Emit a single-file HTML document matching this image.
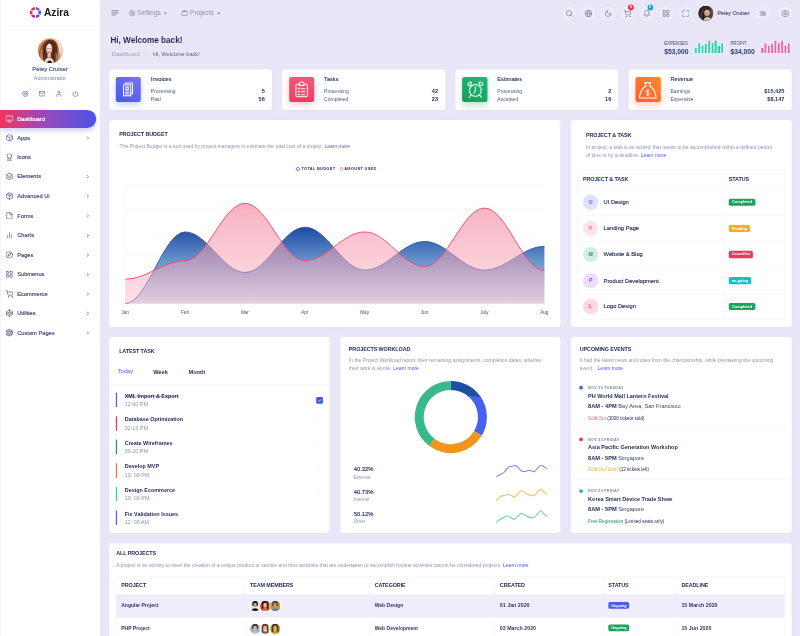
<!DOCTYPE html>
<html lang="en">
<head>
<meta charset="utf-8">
<title>Azira Dashboard</title>
<style>
*{box-sizing:border-box;margin:0;padding:0}
html,body{width:800px;height:636px;overflow:hidden;background:#e9e7f7}
body{font-family:"Liberation Sans",sans-serif;color:#1d2a55}
#root{position:absolute;left:0;top:0;width:1920px;height:1527px;transform:scale(.4166667);transform-origin:0 0;overflow:hidden;opacity:.999}
.abs{position:absolute}
/* ---------- sidebar ---------- */
#side{position:absolute;left:0;top:0;width:240px;height:1527px;background:rgba(255,255,255,.998);box-shadow:inset 2px 0 0 #f3f3f5}
#logo{position:absolute;left:0;top:0;width:240px;height:64px;border-bottom:1px solid #eeedf6}
#logo .txt{position:absolute;left:105.500px;top:18.300px;font-size:24.400px;line-height:24.400px;font-weight:bold;color:#16192c}
.uname{position:absolute;left:0;width:240px;text-align:center}
.sico{position:absolute;top:209px;width:32px;height:32px;border-radius:50%;border:1px solid #f5f4fb}
.sico svg{position:absolute;left:7px;top:7px;width:16px;height:16px;stroke:#5d6a96;fill:none;stroke-width:2.3;stroke-linecap:round;stroke-linejoin:round}
.mi{position:absolute;left:0;width:240px;height:44px}
.mi .t{position:absolute;left:41.300px;top:15px;font-size:13.700px;line-height:14px;color:#3d466f;font-weight:normal;-webkit-text-stroke:.35px #3d466f}
.mi svg.i{position:absolute;left:13px;top:12px;width:19px;height:19px;stroke:#4a5480;fill:none;stroke-width:1.9;stroke-linecap:round;stroke-linejoin:round}
.mi svg.c{position:absolute;left:205px;top:16px;width:12px;height:12px;stroke:#4f5a84;fill:none;stroke-width:3.3;stroke-linecap:round;stroke-linejoin:round}
.mi.act{left:0;width:230.500px;height:43.500px;border-radius:0 60px 60px 0;background:linear-gradient(90deg,#f1345f 0%,#9a49b8 45%,#4a55e6 100%);box-shadow:0 7px 12px rgba(90,80,200,.28)}
.mi.act .t{color:#fff;-webkit-text-stroke:.5px #fff}
.mi.act svg.i{stroke:#fff}
/* ---------- header ---------- */
#hdr{position:absolute;left:240px;top:0;width:1680px;height:64px;border-bottom:1px solid #dcd9ee;background:#e9e7f7}
.hc{position:absolute;top:13px;width:38px;height:38px;border-radius:50%;border:1px solid #e0ddf0;background:#edebf8}
.hc svg{position:absolute;left:8.500px;top:8.500px;width:19px;height:19px;stroke:#737c9f;fill:none;stroke-width:2.100;stroke-linecap:round;stroke-linejoin:round}
.hl{position:absolute;top:22.500px;font-size:15.800px;line-height:16px;color:#8a90ad}
/* ---------- cards ---------- */
.card{position:absolute;background:#fff;border-radius:8px;box-shadow:0 0 8px rgba(150,140,200,.05)}
.ct{position:absolute;margin-top:1.2px;font-size:13px;line-height:13px;font-weight:bold;color:#1d2a55;text-transform:uppercase;letter-spacing:-.25px;white-space:nowrap}
.cd{position:absolute;margin-top:1.2px;font-size:12px;color:#8f96ae;line-height:21px;white-space:nowrap}
.cd a{color:#4a5bf0;text-decoration:none}
.nw{white-space:nowrap}
</style>
</head>
<body>
<div id="root">
<svg width="0" height="0" style="position:absolute">
<defs>
<symbol id="i-airplay" viewBox="0 0 24 24"><path d="M5 17H4a2 2 0 0 1-2-2V5a2 2 0 0 1 2-2h16a2 2 0 0 1 2 2v10a2 2 0 0 1-2 2h-1"/><polygon points="12 15 17 21 7 21 12 15"/></symbol>
<symbol id="i-box" viewBox="0 0 24 24"><path d="M21 16V8a2 2 0 0 0-1-1.73l-7-4a2 2 0 0 0-2 0l-7 4A2 2 0 0 0 3 8v8a2 2 0 0 0 1 1.73l7 4a2 2 0 0 0 2 0l7-4A2 2 0 0 0 21 16z"/><polyline points="3.27 6.96 12 12.01 20.73 6.96"/><line x1="12" y1="22.08" x2="12" y2="12"/></symbol>
<symbol id="i-award" viewBox="0 0 24 24"><circle cx="12" cy="8" r="7"/><polyline points="8.21 13.89 7 23 12 20 17 23 15.79 13.88"/></symbol>
<symbol id="i-layers" viewBox="0 0 24 24"><polygon points="12 2 2 7 12 12 22 7 12 2"/><polyline points="2 17 12 22 22 17"/><polyline points="2 12 12 17 22 12"/></symbol>
<symbol id="i-package" viewBox="0 0 24 24"><line x1="16.5" y1="9.4" x2="7.5" y2="4.21"/><path d="M21 16V8a2 2 0 0 0-1-1.73l-7-4a2 2 0 0 0-2 0l-7 4A2 2 0 0 0 3 8v8a2 2 0 0 0 1 1.73l7 4a2 2 0 0 0 2 0l7-4A2 2 0 0 0 21 16z"/><polyline points="3.27 6.96 12 12.01 20.73 6.96"/><line x1="12" y1="22.08" x2="12" y2="12"/></symbol>
<symbol id="i-file" viewBox="0 0 24 24"><path d="M13 2H6a2 2 0 0 0-2 2v16a2 2 0 0 0 2 2h12a2 2 0 0 0 2-2V9z"/><polyline points="13 2 13 9 20 9"/></symbol>
<symbol id="i-bar" viewBox="0 0 24 24"><line x1="18" y1="20" x2="18" y2="10"/><line x1="12" y1="20" x2="12" y2="4"/><line x1="6" y1="20" x2="6" y2="14"/></symbol>
<symbol id="i-compass" viewBox="0 0 24 24"><circle cx="12" cy="12" r="10"/><polygon points="16.24 7.76 14.12 14.12 7.76 16.24 9.88 9.88 16.24 7.76"/></symbol>
<symbol id="i-grid" viewBox="0 0 24 24"><rect x="3" y="3" width="7" height="7" rx="1.5"/><rect x="14" y="3" width="7" height="7" rx="1.5"/><rect x="14" y="14" width="7" height="7" rx="1.5"/><rect x="3" y="14" width="7" height="7" rx="1.5"/></symbol>
<symbol id="i-cart" viewBox="0 0 24 24"><circle cx="9" cy="21" r="1"/><circle cx="20" cy="21" r="1"/><path d="M1 1h4l2.68 13.39a2 2 0 0 0 2 1.61h9.72a2 2 0 0 0 2-1.61L23 6H6"/></symbol>
<symbol id="i-codepen" viewBox="0 0 24 24"><polygon points="12 2 22 8.5 22 15.5 12 22 2 15.5 2 8.5 12 2"/><line x1="12" y1="22" x2="12" y2="15.5"/><polyline points="22 8.5 12 15.5 2 8.5"/><polyline points="2 15.5 12 8.5 22 15.5"/><line x1="12" y1="2" x2="12" y2="8.5"/></symbol>
<symbol id="i-aperture" viewBox="0 0 24 24"><circle cx="12" cy="12" r="10"/><line x1="14.31" y1="8" x2="20.05" y2="17.94"/><line x1="9.69" y1="8" x2="21.17" y2="8"/><line x1="7.38" y1="12" x2="13.12" y2="2.06"/><line x1="9.69" y1="16" x2="3.95" y2="6.06"/><line x1="14.31" y1="16" x2="2.83" y2="16"/><line x1="16.62" y1="12" x2="10.88" y2="21.94"/></symbol>
<symbol id="i-chev" viewBox="0 0 24 24"><polyline points="9 18 15 12 9 6"/></symbol>
<symbol id="i-gear" viewBox="0 0 24 24"><circle cx="12" cy="12" r="3"/><path d="M19.4 15a1.65 1.65 0 0 0 .33 1.82l.06.06a2 2 0 0 1 0 2.83 2 2 0 0 1-2.83 0l-.06-.06a1.65 1.65 0 0 0-1.82-.33 1.65 1.65 0 0 0-1 1.51V21a2 2 0 0 1-2 2 2 2 0 0 1-2-2v-.09A1.65 1.65 0 0 0 9 19.4a1.65 1.65 0 0 0-1.82.33l-.06.06a2 2 0 0 1-2.83 0 2 2 0 0 1 0-2.83l.06-.06a1.65 1.65 0 0 0 .33-1.82 1.65 1.65 0 0 0-1.51-1H3a2 2 0 0 1-2-2 2 2 0 0 1 2-2h.09A1.65 1.65 0 0 0 4.6 9a1.65 1.65 0 0 0-.33-1.82l-.06-.06a2 2 0 0 1 0-2.83 2 2 0 0 1 2.83 0l.06.06a1.65 1.65 0 0 0 1.82.33H9a1.65 1.65 0 0 0 1-1.51V3a2 2 0 0 1 2-2 2 2 0 0 1 2 2v.09a1.65 1.65 0 0 0 1 1.51 1.65 1.65 0 0 0 1.82-.33l.06-.06a2 2 0 0 1 2.83 0 2 2 0 0 1 0 2.83l-.06.06a1.65 1.65 0 0 0-.33 1.82V9a1.65 1.65 0 0 0 1.51 1H21a2 2 0 0 1 2 2 2 2 0 0 1-2 2h-.09a1.65 1.65 0 0 0-1.51 1z"/></symbol>
<symbol id="i-gear2" viewBox="0 0 24 24"><path d="M9.89 4.08L10.21 1.55L13.79 1.55L14.11 4.08L16.11 4.91L18.12 3.34L20.66 5.88L19.09 7.89L19.92 9.89L22.45 10.21L22.45 13.79L19.92 14.11L19.09 16.11L20.66 18.12L18.12 20.66L16.11 19.09L14.11 19.92L13.79 22.45L10.21 22.45L9.89 19.92L7.89 19.09L5.88 20.66L3.34 18.12L4.91 16.11L4.08 14.11L1.55 13.79L1.55 10.21L4.08 9.89L4.91 7.89L3.34 5.88L5.88 3.34L7.89 4.91Z" stroke-linejoin="round"/><circle cx="12" cy="12" r="3.200"/></symbol>
<symbol id="i-mail" viewBox="0 0 24 24"><path d="M4 4h16c1.1 0 2 .9 2 2v12c0 1.1-.9 2-2 2H4c-1.1 0-2-.9-2-2V6c0-1.1.9-2 2-2z"/><polyline points="22,6 12,13 2,6"/></symbol>
<symbol id="i-user" viewBox="0 0 24 24"><path d="M20 21v-2a4 4 0 0 0-4-4H8a4 4 0 0 0-4 4v2"/><circle cx="12" cy="7" r="4"/></symbol>
<symbol id="i-power" viewBox="0 0 24 24"><path d="M18.36 6.64a9 9 0 1 1-12.73 0"/><line x1="12" y1="2" x2="12" y2="12"/></symbol>
<symbol id="i-search" viewBox="0 0 24 24"><circle cx="11" cy="11" r="8"/><line x1="21" y1="21" x2="16.65" y2="16.65"/></symbol>
<symbol id="i-globe" viewBox="0 0 24 24"><circle cx="12" cy="12" r="10"/><line x1="2" y1="12" x2="22" y2="12"/><path d="M12 2a15.3 15.3 0 0 1 4 10 15.3 15.3 0 0 1-4 10 15.3 15.3 0 0 1-4-10 15.3 15.3 0 0 1 4-10z"/></symbol>
<symbol id="i-moon" viewBox="0 0 24 24"><path d="M21 12.79A9 9 0 1 1 11.21 3 7 7 0 0 0 21 12.79z"/></symbol>
<symbol id="i-bell" viewBox="0 0 24 24"><path d="M18 8A6 6 0 0 0 6 8c0 7-3 9-3 9h18s-3-2-3-9"/><path d="M13.73 21a2 2 0 0 1-3.46 0"/></symbol>
<symbol id="i-max" viewBox="0 0 24 24"><path d="M8 3H5a2 2 0 0 0-2 2v3m18 0V5a2 2 0 0 0-2-2h-3m0 18h3a2 2 0 0 0 2-2v-3M3 16v3a2 2 0 0 0 2 2h3"/></symbol>
<symbol id="i-brief" viewBox="0 0 24 24"><rect x="2" y="7" width="20" height="14" rx="2" ry="2"/><path d="M16 7V5a2 2 0 0 0-2-2h-4a2 2 0 0 0-2 2v2"/></symbol>
<symbol id="av" viewBox="0 0 60 60">
 <defs>
  <radialGradient id="avbg" cx=".78" cy=".35" r=".8"><stop offset="0" stop-color="#f8ece0"/><stop offset=".45" stop-color="#ecbd94"/><stop offset="1" stop-color="#c98a5e"/></radialGradient>
  <radialGradient id="avface" cx=".5" cy=".3" r=".75"><stop offset="0" stop-color="#fdf1ec"/><stop offset=".55" stop-color="#f0cdbd"/><stop offset="1" stop-color="#cf9a85"/></radialGradient>
 </defs>
 <rect width="60" height="60" fill="url(#avbg)"/>
 <path d="M4 60C0 38 4 10 24 4c16-4 26 8 26 26 0 10-3 20-1 30z" fill="#9a5a36"/>
 <path d="M10 60C6 40 8 14 24 6c14-4 22 6 22 22 0 12-2 22-1 32z" fill="#5a2c1d"/>
 <path d="M6 56c-2-14 0-26 6-36-2 14-1 24 2 36zM49 56c2-10 2-18 0-26 4 6 5 16 3 26z" fill="#c08254"/>
 <path d="M42 34c5 6 7 14 5 26h-6c2-9 2-18 1-26z" fill="#b07048"/>
 <ellipse cx="27" cy="26" rx="7.600" ry="12.500" fill="url(#avface)"/>
 <path d="M19.500 22c0-8 3-13 8-13.500-2 4-5 8-8 13.500zM28.500 8.500c5 .5 7.500 5 7.500 12-1.500-5-4-9-7.500-12z" fill="#4a2216"/>
 <path d="M35 16c3 8 3 18 1 28 4-6 5-20-1-28zM19.500 18c-3 8-3 20 0 30-4-8-5-22 0-30z" fill="#4a2216"/>
 <path d="M23 37h8v10h-8z" fill="#e8c2ae"/>
 <path d="M15 60c1-8 5-12 12-13 6 0 11 5 12 13z" fill="#efd6c8"/>
 <path d="M22 60c1-4 3-5.500 6-5.500s5 1.500 6 5.500z" fill="#17131a"/>
 <path d="M25 34.500h4" stroke="#c25f5a" stroke-width="1.800" stroke-linecap="round"/>
 <path d="M22.500 25.500h3M29 25.500h3" stroke="#6a463a" stroke-width="1.200" stroke-linecap="round"/>
</symbol>
</defs>
</svg>
<div id="side">
 <div id="logo">
  <svg class="abs" style="left:70.100px;top:15.300px" width="30" height="30" viewBox="0 0 30 30"><g fill="none" stroke-width="6.200" stroke-linecap="butt"><path d="M16.09 4.66A10.4 10.4 0 0 1 23.41 8.89" stroke="#8d42da"/><path d="M24.50 10.77A10.4 10.4 0 0 1 24.50 19.23" stroke="#4a54e8"/><path d="M23.41 21.11A10.4 10.4 0 0 1 16.09 25.34" stroke="#5c49e2"/><path d="M13.91 25.34A10.4 10.4 0 0 1 6.59 21.11" stroke="#c2307f"/><path d="M5.50 19.23A10.4 10.4 0 0 1 5.50 10.77" stroke="#ea2f60"/><path d="M6.59 8.89A10.4 10.4 0 0 1 13.91 4.66" stroke="#d63060"/></g></svg>
  <div class="txt">Azira</div>
 </div>
 <svg class="abs" style="left:91px;top:91px;border-radius:50%" width="60" height="60"><use href="#av"/></svg>
 <div class="uname" style="top:158.300px;font-size:14px;line-height:14px;color:#55608f;-webkit-text-stroke:.5px #55608f">Petey Cruiser</div>
 <div class="uname" style="top:181px;font-size:13.200px;line-height:13px;color:#7d88a8">Administrator</div>
 <div class="sico" style="left:44.500px"><svg><use href="#i-gear2"/></svg></div>
 <div class="sico" style="left:84.500px"><svg><use href="#i-mail"/></svg></div>
 <div class="sico" style="left:124.500px"><svg><use href="#i-user"/></svg></div>
 <div class="sico" style="left:165px"><svg><use href="#i-power"/></svg></div>

 <div class="mi act" style="top:263.800px"><svg class="i"><use href="#i-airplay"/></svg><div class="t">Dashboard</div></div>
 <div class="mi" style="top:308.6px"><svg class="i"><use href="#i-box"/></svg><div class="t">Apps</div><svg class="c"><use href="#i-chev"/></svg></div>
 <div class="mi" style="top:355.5px"><svg class="i"><use href="#i-award"/></svg><div class="t">Icons</div></div>
 <div class="mi" style="top:402.3px"><svg class="i"><use href="#i-layers"/></svg><div class="t">Elements</div><svg class="c"><use href="#i-chev"/></svg></div>
 <div class="mi" style="top:449.2px"><svg class="i"><use href="#i-package"/></svg><div class="t">Advanced Ui</div><svg class="c"><use href="#i-chev"/></svg></div>
 <div class="mi" style="top:496.1px"><svg class="i"><use href="#i-file"/></svg><div class="t">Forms</div><svg class="c"><use href="#i-chev"/></svg></div>
 <div class="mi" style="top:543.0px"><svg class="i"><use href="#i-bar"/></svg><div class="t">Charts</div><svg class="c"><use href="#i-chev"/></svg></div>
 <div class="mi" style="top:589.8px"><svg class="i"><use href="#i-compass"/></svg><div class="t">Pages</div><svg class="c"><use href="#i-chev"/></svg></div>
 <div class="mi" style="top:636.7px"><svg class="i"><use href="#i-grid"/></svg><div class="t">Submenus</div><svg class="c"><use href="#i-chev"/></svg></div>
 <div class="mi" style="top:683.6px"><svg class="i"><use href="#i-cart"/></svg><div class="t">Ecommerce</div><svg class="c"><use href="#i-chev"/></svg></div>
 <div class="mi" style="top:730.4px"><svg class="i"><use href="#i-codepen"/></svg><div class="t">Utilities</div><svg class="c"><use href="#i-chev"/></svg></div>
 <div class="mi" style="top:777.3px"><svg class="i"><use href="#i-aperture"/></svg><div class="t">Custom Pages</div><svg class="c"><use href="#i-chev"/></svg></div>
</div>

<div id="hdr">
<svg class="abs" style="left:27px;top:24px" width="18" height="14" viewBox="0 0 18 14"><g stroke="#7b84a6" stroke-width="2.4" stroke-linecap="round"><path d="M1.200 2h15.600M1.200 7h15.600M1.200 12h9.600"/></g></svg>
<svg class="abs" style="left:69px;top:24px;fill:none;stroke:#828aa9;stroke-width:2.600;stroke-linecap:round;stroke-linejoin:round" width="16" height="16"><use href="#i-gear2"/></svg>
<div class="hl" style="left:89px">Settings</div>
<div class="abs" style="left:153px;top:30px;border:4.500px solid transparent;border-top:5px solid #8a90ad"></div>
<svg class="abs" style="left:195px;top:23px;fill:none;stroke:#828aa9;stroke-width:2.600;stroke-linecap:round;stroke-linejoin:round" width="16" height="16"><use href="#i-brief"/></svg>
<div class="hl" style="left:216px">Projects</div>
<div class="abs" style="left:280.500px;top:30px;border:4.500px solid transparent;border-top:5px solid #8a90ad"></div>
<div class="hc" style="left:1107.0px"><svg><use href="#i-search"/></svg></div>
<div class="hc" style="left:1153.5px"><svg><use href="#i-globe"/></svg></div>
<div class="hc" style="left:1200.1px"><svg><use href="#i-moon"/></svg></div>
<div class="hc" style="left:1246.7px"><svg><use href="#i-cart"/></svg></div>
<div class="hc" style="left:1293.2px"><svg><use href="#i-bell"/></svg></div>
<div class="hc" style="left:1339.8px"><svg><use href="#i-grid"/></svg></div>
<div class="hc" style="left:1386.3px"><svg><use href="#i-max"/></svg></div>
<div class="abs" style="left:1267.2px;top:10.500px;width:14px;height:14px;border-radius:50%;background:#f5334f;color:#fff;font-size:8px;line-height:14px;text-align:center;font-weight:bold">6</div>
<div class="abs" style="left:1313.7px;top:10.500px;width:14px;height:14px;border-radius:50%;background:#17a7c4;color:#fff;font-size:8px;line-height:14px;text-align:center;font-weight:bold">5</div>
<svg class="abs" style="left:1436.400px;top:14px;border-radius:50%" width="36" height="36" viewBox="0 0 36 36"><rect width="36" height="36" fill="#4a3a34"/><path d="M0 0h36v14c-4-8-12-12-20-9C8 8 4 16 3 36H0z" fill="#2a1f1c"/><path d="M24 0h12v36h-5c2-12 1-26-7-36z" fill="#6a5048"/><ellipse cx="21" cy="16" rx="6.500" ry="8.500" fill="#d2a998"/><path d="M13 14c1-7 7-10 12-8 3 1 5 4 5 8-3-4-7-6-11-5-2 1-4 3-6 5z" fill="#231a18"/><path d="M12 12c-3 8-3 16-1 24h7c-4-8-5-16-6-24z" fill="#1f1715"/><path d="M12 36c1-6 5-9 10-9s8 3 9 9z" fill="#cfc4ba"/><path d="M18 22.500h5" stroke="#a05a52" stroke-width="1.200"/></svg>
<div class="abs nw" style="left:1482px;top:25.500px;font-size:12.700px;line-height:13px;color:#4b557f;-webkit-text-stroke:.4px #4b557f">Petey Cruiser</div>
<div class="hc" style="left:1571.700px"><svg viewBox="0 0 24 24" style="stroke:#8a93ad"><path d="M3.500 7.200h17M8 12h12.500M5.500 16.800h15" stroke-width="3"/></svg></div>
<div class="hc" style="left:1625px"><svg><use href="#i-gear2"/></svg></div>
</div>

<div class="abs nw" style="left:265px;top:87.400px;font-size:19.600px;line-height:20px;font-weight:bold;color:#1d2a55">Hi, Welcome back!</div>
<div class="abs nw" style="left:269px;top:123.300px;font-size:13.500px;line-height:14px;color:#9a9fb8">Dashboard</div>
<svg class="abs" style="left:346px;top:126px;fill:none;stroke:#c3c5d6;stroke-width:2.500;stroke-linecap:round;stroke-linejoin:round" width="9" height="9"><use href="#i-chev"/></svg>
<div class="abs nw" style="left:367px;top:123.300px;font-size:13.500px;line-height:14px;color:#5b6485">Hi, Welcome back!</div>
<div class="abs nw" style="left:1594px;top:98.500px;font-size:10.600px;line-height:11px;color:#3d466f">EXPENSES</div>
<div class="abs nw" style="left:1594px;top:115px;font-size:16.200px;line-height:16px;font-weight:bold;color:#323d6e">$53,000</div>
<div class="abs nw" style="left:1753px;top:98.500px;font-size:10.600px;line-height:11px;color:#3d466f">PROFIT</div>
<div class="abs nw" style="left:1753px;top:115px;font-size:16.200px;line-height:16px;font-weight:bold;color:#323d6e">$34,000</div>
<div class="abs" style="left:1668.0px;top:115.4px;width:4.300px;height:11.5px;background:#20d9a2;border-radius:1px 1px 0 0"></div><div class="abs" style="left:1675.9px;top:103.9px;width:4.300px;height:23.0px;background:#20d9a2;border-radius:1px 1px 0 0"></div><div class="abs" style="left:1683.8px;top:110.1px;width:4.300px;height:16.8px;background:#20d9a2;border-radius:1px 1px 0 0"></div><div class="abs" style="left:1691.7px;top:104.7px;width:4.300px;height:22.2px;background:#20d9a2;border-radius:1px 1px 0 0"></div><div class="abs" style="left:1699.6px;top:98.4px;width:4.300px;height:28.5px;background:#20d9a2;border-radius:1px 1px 0 0"></div><div class="abs" style="left:1707.5px;top:103.1px;width:4.300px;height:23.8px;background:#20d9a2;border-radius:1px 1px 0 0"></div><div class="abs" style="left:1715.4px;top:98.4px;width:4.300px;height:28.5px;background:#20d9a2;border-radius:1px 1px 0 0"></div><div class="abs" style="left:1723.3px;top:110.1px;width:4.300px;height:16.8px;background:#20d9a2;border-radius:1px 1px 0 0"></div><div class="abs" style="left:1731.2px;top:104.3px;width:4.300px;height:22.6px;background:#20d9a2;border-radius:1px 1px 0 0"></div>
<div class="abs" style="left:1827.3px;top:115.4px;width:4.300px;height:11.5px;background:#f0609d;border-radius:1px 1px 0 0"></div><div class="abs" style="left:1835.2px;top:103.9px;width:4.300px;height:23.0px;background:#f0609d;border-radius:1px 1px 0 0"></div><div class="abs" style="left:1843.1px;top:110.1px;width:4.300px;height:16.8px;background:#f0609d;border-radius:1px 1px 0 0"></div><div class="abs" style="left:1851.0px;top:104.7px;width:4.300px;height:22.2px;background:#f0609d;border-radius:1px 1px 0 0"></div><div class="abs" style="left:1858.9px;top:98.4px;width:4.300px;height:28.5px;background:#f0609d;border-radius:1px 1px 0 0"></div><div class="abs" style="left:1866.8px;top:103.1px;width:4.300px;height:23.8px;background:#f0609d;border-radius:1px 1px 0 0"></div><div class="abs" style="left:1874.7px;top:98.4px;width:4.300px;height:28.5px;background:#f0609d;border-radius:1px 1px 0 0"></div><div class="abs" style="left:1882.6px;top:110.1px;width:4.300px;height:16.8px;background:#f0609d;border-radius:1px 1px 0 0"></div><div class="abs" style="left:1890.5px;top:104.3px;width:4.300px;height:22.6px;background:#f0609d;border-radius:1px 1px 0 0"></div>

<div class="card" style="left:261.6px;top:166.600px;width:391.300px;height:97.600px">
 <div class="abs" style="left:16.200px;top:18.900px;width:60.500px;height:60px;border-radius:5px;background:linear-gradient(215deg,#7d72f6,#4558ee);box-shadow:0 8px 16px rgba(90,100,240,.25)"><svg class="abs" style="left:4.200px;top:3.500px" width="52" height="52" viewBox="0 0 36 36"><g fill="none" stroke="#fff" stroke-width="1.700" stroke-linejoin="round" stroke-linecap="round"><path d="M13 9V7h12v18h-2"/><path d="M10 10h12v19l-2-1.500-2 1.500-2-1.500-2 1.500-2-1.500-2 1.500z"/><rect x="14" y="13.500" width="4" height="5"/><path d="M13 22h6M13 25h6"/></g></svg></div>
 <div class="abs nw" style="left:100.400px;top:16.200px;font-size:13.500px;line-height:14px;color:#1d2a55;-webkit-text-stroke:.25px #1d2a55">Invoices</div>
 <div class="abs nw" style="left:100.400px;top:46.300px;font-size:12px;line-height:12px;color:#4d5780">Processing</div>
 <div class="abs nw" style="right:17.400px;top:46px;font-size:13.500px;line-height:14px;font-weight:bold;color:#1d2a55">5</div>
 <div class="abs nw" style="left:100.400px;top:65.700px;font-size:12px;line-height:12px;color:#4d5780">Paid</div>
 <div class="abs nw" style="right:17.400px;top:65.400px;font-size:13.500px;line-height:14px;font-weight:bold;color:#1d2a55">56</div>
</div>
<div class="card" style="left:677.400px;top:166.600px;width:391.300px;height:97.600px">
 <div class="abs" style="left:16.200px;top:18.900px;width:60.500px;height:60px;border-radius:5px;background:linear-gradient(180deg,#f65877,#f13b62);box-shadow:0 5px 18px rgba(245,60,100,.30)"><svg class="abs" style="left:4.200px;top:3.500px" width="52" height="52" viewBox="0 0 36 36"><g fill="none" stroke="#fff" stroke-width="1.700" stroke-linejoin="round" stroke-linecap="round"><rect x="8.500" y="9" width="19" height="21" rx="2"/><path d="M14 9c0-2 1-3.500 4-3.500s4 1.500 4 3.500v2h-8z" fill="#f4456a"/><path d="M12 16l1 1 2-2M17.500 16.500h6M12 21l1 1 2-2M17.500 21.500h6M12 26l1 1 2-2M17.500 26.500h6"/></g></svg></div>
 <div class="abs nw" style="left:100.400px;top:16.200px;font-size:13.500px;line-height:14px;color:#1d2a55;-webkit-text-stroke:.25px #1d2a55">Tasks</div>
 <div class="abs nw" style="left:100.400px;top:46.300px;font-size:12px;line-height:12px;color:#4d5780">Processing</div>
 <div class="abs nw" style="right:17.400px;top:46px;font-size:13.500px;line-height:14px;font-weight:bold;color:#1d2a55">42</div>
 <div class="abs nw" style="left:100.400px;top:65.700px;font-size:12px;line-height:12px;color:#4d5780">Completed</div>
 <div class="abs nw" style="right:17.400px;top:65.400px;font-size:13.500px;line-height:14px;font-weight:bold;color:#1d2a55">23</div>
</div>
<div class="card" style="left:1093.200px;top:166.600px;width:391.300px;height:97.600px">
 <div class="abs" style="left:16.200px;top:18.900px;width:60.500px;height:60px;border-radius:5px;background:linear-gradient(200deg,#23b877,#139f5c);box-shadow:0 8px 16px rgba(30,170,100,.28)"><svg class="abs" style="left:4.200px;top:3.500px" width="52" height="52" viewBox="0 0 36 36"><g fill="none" stroke="#fff" stroke-width="1.800" stroke-linejoin="round" stroke-linecap="round"><circle cx="18.600" cy="19.400" r="9.800"/><path d="M18.600 13.500v6.500l-2.400 3.800M11.200 27.200l-2.900 3.500M25.800 27.200l2.900 3.500"/><ellipse cx="9.200" cy="8.600" rx="3.400" ry="2.300" transform="rotate(-38 9.200 8.600)"/><ellipse cx="27.900" cy="8.300" rx="3.400" ry="2.300" transform="rotate(38 27.900 8.300)"/></g></svg></div>
 <div class="abs nw" style="left:100.400px;top:16.200px;font-size:13.500px;line-height:14px;color:#1d2a55;-webkit-text-stroke:.25px #1d2a55">Estimates</div>
 <div class="abs nw" style="left:100.400px;top:46.300px;font-size:12px;line-height:12px;color:#4d5780">Processing</div>
 <div class="abs nw" style="right:17.400px;top:46px;font-size:13.500px;line-height:14px;font-weight:bold;color:#1d2a55">2</div>
 <div class="abs nw" style="left:100.400px;top:65.700px;font-size:12px;line-height:12px;color:#4d5780">Accepted</div>
 <div class="abs nw" style="right:17.400px;top:65.400px;font-size:13.500px;line-height:14px;font-weight:bold;color:#1d2a55">16</div>
</div>
<div class="card" style="left:1508.900px;top:166.600px;width:391.300px;height:97.600px">
 <div class="abs" style="left:16.200px;top:18.900px;width:60.500px;height:60px;border-radius:5px;background:linear-gradient(215deg,#fb8c1c,#ff5a3e);box-shadow:0 8px 16px rgba(250,120,40,.30)"><svg class="abs" style="left:4.200px;top:3.500px" width="52" height="52" viewBox="0 0 36 36"><g fill="none" stroke="#fff" stroke-width="1.800" stroke-linejoin="round" stroke-linecap="round"><path d="M13 6.400h9.600l-1.900 5.300c5 3 9.500 10 10.600 17.300v3h-27v-3c1.100-7.300 5.600-14.300 10.600-17.300z"/><path d="M20.300 20.300c-.4-.9-1.300-1.300-2.500-1.300-1.500 0-2.500.8-2.500 1.900s.9 1.700 2.500 2c1.700.3 2.600.9 2.600 2s-1 1.900-2.600 1.900c-1.200 0-2.200-.4-2.700-1.300M17.800 17.500v11" stroke-width="1.500"/></g></svg></div>
 <div class="abs nw" style="left:100.400px;top:16.200px;font-size:13.500px;line-height:14px;color:#1d2a55;-webkit-text-stroke:.25px #1d2a55">Revenue</div>
 <div class="abs nw" style="left:100.400px;top:46.300px;font-size:12px;line-height:12px;color:#4d5780">Earnings</div>
 <div class="abs nw" style="right:17.400px;top:46px;font-size:13.500px;line-height:14px;font-weight:bold;color:#1d2a55">$15,425</div>
 <div class="abs nw" style="left:100.400px;top:65.700px;font-size:12px;line-height:12px;color:#4d5780">Expensive</div>
 <div class="abs nw" style="right:17.400px;top:65.400px;font-size:13.500px;line-height:14px;font-weight:bold;color:#1d2a55">$8,147</div>
</div>

<div class="card" style="left:261.6px;top:288.3px;width:1083px;height:496.7px">
 <div class="ct" style="left:24.400px;top:26.1px">Project Budget</div>
 <div class="cd" style="left:25.400px;top:50.6px">The Project Budget is a tool used by project managers to estimate the total cost of a project. <a>Learn more</a></div>
 <div class="abs" style="left:448.500px;top:112.4px;width:9.500px;height:9.500px;border-radius:50%;border:2.900px solid #4a63e8"></div>
 <div class="abs nw" style="left:462px;top:112.2px;font-size:9.500px;line-height:10px;font-weight:bold;letter-spacing:.65px;color:#2b3566">TOTAL BUDGET</div>
 <div class="abs" style="left:553.500px;top:112.7px;width:9px;height:9px;border-radius:50%;border:2.400px solid #f27a97"></div>
 <div class="abs nw" style="left:564.500px;top:112.2px;font-size:9.500px;line-height:10px;font-weight:bold;letter-spacing:.65px;color:#2b3566">AMOUNT USED</div>
 <svg class="abs" style="left:0;top:0" width="1083" height="496.7" viewBox="261.6 288.3 1083 496.7">
  <defs>
   <linearGradient id="gb" x1="0" y1="0" x2="0" y2="1"><stop offset="0" stop-color="#1b4aa0" stop-opacity="1"/><stop offset=".5" stop-color="#6a97cf" stop-opacity=".95"/><stop offset="1" stop-color="#c9d8f0" stop-opacity=".85"/></linearGradient>
   <linearGradient id="gp" x1="0" y1="0" x2="0" y2="1"><stop offset="0" stop-color="#f3819b" stop-opacity=".62"/><stop offset="1" stop-color="#f9b9c6" stop-opacity=".45"/></linearGradient>
  </defs>
  <path d="M300.3 442.6H1306.2" stroke="#f1f0f6" stroke-width="1.200"/>
  <path d="M300.3 499.8H1306.2" stroke="#f1f0f6" stroke-width="1.200"/>
  <path d="M300.3 557.0H1306.2" stroke="#f1f0f6" stroke-width="1.200"/>
  <path d="M300.3 614.2H1306.2" stroke="#f1f0f6" stroke-width="1.200"/>
  <path d="M300.3 671.4H1306.2" stroke="#f1f0f6" stroke-width="1.200"/>
  <path d="M300.3 728.6H1306.2" stroke="#f1f0f6" stroke-width="1.200"/>
  <path d="M300.3 442.6V728.6" stroke="#f1f0f6" stroke-width="1.200"/>
  <path d="M300.3 728.6C353.5 728.6 390.8 557.0 444.0 557.0C497.2 557.0 534.5 654.2 587.7 654.2C640.9 654.2 678.2 545.6 731.4 545.6C784.6 545.6 821.9 648.5 875.1 648.5C928.3 648.5 965.6 579.9 1018.8 579.9C1072.0 579.9 1109.3 648.5 1162.5 648.5C1215.7 648.5 1253.0 591.3 1306.2 591.3V728.6H300.3Z" fill="url(#gb)"/>
  <path d="M300.3 728.6C353.5 728.6 390.8 557.0 444.0 557.0C497.2 557.0 534.5 654.2 587.7 654.2C640.9 654.2 678.2 545.6 731.4 545.6C784.6 545.6 821.9 648.5 875.1 648.5C928.3 648.5 965.6 579.9 1018.8 579.9C1072.0 579.9 1109.3 648.5 1162.5 648.5C1215.7 648.5 1253.0 591.3 1306.2 591.3" fill="none" stroke="#2a4fa5" stroke-width="2"/>
  <path d="M300.3 670.3C353.5 670.3 390.8 625.6 444.0 625.6C497.2 625.6 534.5 488.4 587.7 488.4C640.9 488.4 678.2 625.6 731.4 625.6C784.6 625.6 821.9 557.0 875.1 557.0C928.3 557.0 965.6 639.9 1018.8 639.9C1072.0 639.9 1109.3 499.8 1162.5 499.8C1215.7 499.8 1253.0 649.4 1306.2 649.4V728.6H300.3Z" fill="url(#gp)"/>
  <path d="M300.3 670.3C353.5 670.3 390.8 625.6 444.0 625.6C497.2 625.6 534.5 488.4 587.7 488.4C640.9 488.4 678.2 625.6 731.4 625.6C784.6 625.6 821.9 557.0 875.1 557.0C928.3 557.0 965.6 639.9 1018.8 639.9C1072.0 639.9 1109.3 499.8 1162.5 499.8C1215.7 499.8 1253.0 649.4 1306.2 649.4" fill="none" stroke="#f0466f" stroke-width="2.200"/>
 </svg>
 <div class="abs nw" style="left:8.7px;top:455.7px;width:60px;text-align:center;font-size:11px;line-height:11px;color:#737b9a;-webkit-text-stroke:.25px #737b9a">Jan</div>
 <div class="abs nw" style="left:152.4px;top:455.7px;width:60px;text-align:center;font-size:11px;line-height:11px;color:#737b9a;-webkit-text-stroke:.25px #737b9a">Feb</div>
 <div class="abs nw" style="left:296.1px;top:455.7px;width:60px;text-align:center;font-size:11px;line-height:11px;color:#737b9a;-webkit-text-stroke:.25px #737b9a">Mar</div>
 <div class="abs nw" style="left:439.8px;top:455.7px;width:60px;text-align:center;font-size:11px;line-height:11px;color:#737b9a;-webkit-text-stroke:.25px #737b9a">Apr</div>
 <div class="abs nw" style="left:583.5px;top:455.7px;width:60px;text-align:center;font-size:11px;line-height:11px;color:#737b9a;-webkit-text-stroke:.25px #737b9a">May</div>
 <div class="abs nw" style="left:727.2px;top:455.7px;width:60px;text-align:center;font-size:11px;line-height:11px;color:#737b9a;-webkit-text-stroke:.25px #737b9a">Jun</div>
 <div class="abs nw" style="left:870.9px;top:455.7px;width:60px;text-align:center;font-size:11px;line-height:11px;color:#737b9a;-webkit-text-stroke:.25px #737b9a">July</div>
 <div class="abs nw" style="left:1014.6px;top:455.7px;width:60px;text-align:center;font-size:11px;line-height:11px;color:#737b9a;-webkit-text-stroke:.25px #737b9a">Aug</div>
</div>

<div class="card" style="left:1369.6px;top:288.3px;width:530.6px;height:496.7px">
 <div class="ct" style="left:36.8px;top:29.0px">Project &amp; Task</div>
 <div class="cd" style="left:36.8px;top:54.2px;line-height:19px">In project, a task is an activity that needs to be accomplished within a defined period<br>of time or by a deadline. <a>Learn more</a></div>
 <div class="abs" style="left:16.2px;top:120.3px;width:497.7px;height:358.0px;border:1px solid #eeedf5"></div>
 <div class="abs" style="left:367.8px;top:120.3px;width:1px;height:357.0px;background:#eeedf5"></div>
 <div class="ct" style="left:29.6px;top:134.5px">Project &amp; Task</div>
 <div class="ct" style="left:379.4px;top:134.5px">Status</div>
 <div class="abs" style="left:16.2px;top:163.5px;width:497.7px;height:1px;background:#eeedf5"></div>
 <div class="abs" style="left:29.3px;top:178.8px;width:37px;height:37px;border-radius:50%;background:#dfe2fc;color:#4a5bf0;font-size:12px;font-weight:bold;line-height:37px;text-align:center">U</div>
 <div class="abs nw" style="left:79.0px;top:190.3px;font-size:13.800px;line-height:14px;color:#232d5c;-webkit-text-stroke:.3px #232d5c">UI Design</div>
 <div class="abs nw" style="left:379.4px;top:188.6px;width:64px;height:17.400px;border-radius:4px;background:#19a35f;color:#fff;font-size:9.300px;font-weight:bold;line-height:17.400px;text-align:center">Completed</div>
 <div class="abs" style="left:16.2px;top:227.7px;width:497.7px;height:1px;background:#eeedf5"></div>
 <div class="abs" style="left:29.3px;top:241.7px;width:37px;height:37px;border-radius:50%;background:#fce4ee;color:#f583ad;font-size:12px;font-weight:bold;line-height:37px;text-align:center">R</div>
 <div class="abs nw" style="left:79.0px;top:253.2px;font-size:13.800px;line-height:14px;color:#232d5c;-webkit-text-stroke:.3px #232d5c">Landing Page</div>
 <div class="abs nw" style="left:379.4px;top:251.5px;width:51.5px;height:17.400px;border-radius:4px;background:#f0b01c;color:#fff;font-size:9.300px;font-weight:bold;line-height:17.400px;text-align:center">Pending</div>
 <div class="abs" style="left:16.2px;top:290.7px;width:497.7px;height:1px;background:#eeedf5"></div>
 <div class="abs" style="left:29.3px;top:304.2px;width:37px;height:37px;border-radius:50%;background:#d4efdf;color:#1a9c5b;font-size:12px;font-weight:bold;line-height:37px;text-align:center">W</div>
 <div class="abs nw" style="left:79.0px;top:315.7px;font-size:13.800px;line-height:14px;color:#232d5c;-webkit-text-stroke:.3px #232d5c">Website &amp; Blog</div>
 <div class="abs nw" style="left:379.4px;top:314.0px;width:58px;height:17.400px;border-radius:4px;background:#f0365a;color:#fff;font-size:9.300px;font-weight:bold;line-height:17.400px;text-align:center">Cancelled</div>
 <div class="abs" style="left:16.2px;top:353.2px;width:497.7px;height:1px;background:#eeedf5"></div>
 <div class="abs" style="left:29.3px;top:366.9px;width:37px;height:37px;border-radius:50%;background:#eddcf8;color:#a24ee2;font-size:12px;font-weight:bold;line-height:37px;text-align:center">P</div>
 <div class="abs nw" style="left:79.0px;top:378.4px;font-size:13.800px;line-height:14px;color:#232d5c;-webkit-text-stroke:.3px #232d5c">Product Development</div>
 <div class="abs nw" style="left:379.4px;top:376.7px;width:54px;height:17.400px;border-radius:4px;background:#12c1c6;color:#fff;font-size:9.300px;font-weight:bold;line-height:17.400px;text-align:center">on-going</div>
 <div class="abs" style="left:16.2px;top:415.4px;width:497.7px;height:1px;background:#eeedf5"></div>
 <div class="abs" style="left:29.3px;top:429.0px;width:37px;height:37px;border-radius:50%;background:#fcd9e0;color:#f0365a;font-size:12px;font-weight:bold;line-height:37px;text-align:center">L</div>
 <div class="abs nw" style="left:79.0px;top:440.5px;font-size:13.800px;line-height:14px;color:#232d5c;-webkit-text-stroke:.3px #232d5c">Logo Design</div>
 <div class="abs nw" style="left:379.4px;top:438.8px;width:64px;height:17.400px;border-radius:4px;background:#19a35f;color:#fff;font-size:9.300px;font-weight:bold;line-height:17.400px;text-align:center">Completed</div>
</div>

<div class="card" style="left:261.6px;top:809px;width:529.9px;height:470px">
 <div class="ct" style="left:24.4px;top:25.8px">Latest Task</div>
 <div class="abs nw" style="left:20.4px;top:74.0px;font-size:14px;line-height:14px;color:#4a5bf0">Today</div>
 <div class="abs nw" style="left:106.0px;top:77.6px;font-size:13.500px;line-height:14px;font-weight:bold;color:#1d2a55">Week</div>
 <div class="abs nw" style="left:190.8px;top:77.6px;font-size:13.500px;line-height:14px;font-weight:bold;color:#1d2a55">Month</div>
 <div class="abs" style="left:0;top:113.7px;width:529.6px;height:1px;background:#efeef6"></div>
 <div class="abs" style="left:16.600px;top:133.0px;width:2.600px;height:35px;background:#4a5bf0;border-radius:1px"></div>
 <div class="abs nw" style="left:37.8px;top:134.5px;font-size:13px;line-height:14px;font-weight:bold;color:#232d5c;text-decoration:line-through">XML Import &amp; Export</div>
 <div class="abs nw" style="left:37.8px;top:155.0px;font-size:13px;line-height:14px;color:#9096ad">12:00 PM</div>
 <div class="abs" style="left:497.4px;top:143.8px;width:16px;height:16px;border-radius:3px;background:#3f58e8"><svg class="abs" style="left:3px;top:3px" width="10" height="10" viewBox="0 0 10 10"><path d="M1.500 5.200l2.300 2.300 4.700-4.900" fill="none" stroke="#fff" stroke-width="1.800"/></svg></div>
 <div class="abs" style="left:16.600px;top:189.6px;width:2.600px;height:35px;background:#f0365a;border-radius:1px"></div>
 <div class="abs nw" style="left:37.8px;top:191.1px;font-size:13px;line-height:14px;font-weight:bold;color:#232d5c">Database Optimization</div>
 <div class="abs nw" style="left:37.8px;top:211.5px;font-size:13px;line-height:14px;color:#9096ad">02:13 PM</div>
 <div class="abs" style="left:496.4px;top:199.3px;width:18px;height:18px;border-radius:50%;border:1.500px solid #f3f3f8"></div>
 <div class="abs" style="left:16.600px;top:246.2px;width:2.600px;height:35px;background:#1a9c5b;border-radius:1px"></div>
 <div class="abs nw" style="left:37.8px;top:247.7px;font-size:13px;line-height:14px;font-weight:bold;color:#232d5c">Create Wireframes</div>
 <div class="abs nw" style="left:37.8px;top:267.9px;font-size:13px;line-height:14px;color:#9096ad">06:20 PM</div>
 <div class="abs" style="left:496.4px;top:255.8px;width:18px;height:18px;border-radius:50%;border:1.500px solid #f3f3f8"></div>
 <div class="abs" style="left:16.600px;top:302.8px;width:2.600px;height:35px;background:#f8712a;border-radius:1px"></div>
 <div class="abs nw" style="left:37.8px;top:304.3px;font-size:13px;line-height:14px;font-weight:bold;color:#232d5c">Develop MVP</div>
 <div class="abs nw" style="left:37.8px;top:324.3px;font-size:13px;line-height:14px;color:#9096ad">10: 00 PM</div>
 <div class="abs" style="left:496.4px;top:312.3px;width:18px;height:18px;border-radius:50%;border:1.500px solid #f3f3f8"></div>
 <div class="abs" style="left:16.600px;top:359.4px;width:2.600px;height:35px;background:#22d3c5;border-radius:1px"></div>
 <div class="abs nw" style="left:37.8px;top:360.9px;font-size:13px;line-height:14px;font-weight:bold;color:#232d5c">Design Ecommerce</div>
 <div class="abs nw" style="left:37.8px;top:380.8px;font-size:13px;line-height:14px;color:#9096ad">10: 00 PM</div>
 <div class="abs" style="left:496.4px;top:368.8px;width:18px;height:18px;border-radius:50%;border:1.500px solid #f3f3f8"></div>
 <div class="abs" style="left:16.600px;top:416.0px;width:2.600px;height:35px;background:#4a5bf0;border-radius:1px"></div>
 <div class="abs nw" style="left:37.8px;top:417.5px;font-size:13px;line-height:14px;font-weight:bold;color:#232d5c">Fix Validation Issues</div>
 <div class="abs nw" style="left:37.8px;top:437.2px;font-size:13px;line-height:14px;color:#9096ad">12: 00 AM</div>
 <div class="abs" style="left:496.4px;top:425.3px;width:18px;height:18px;border-radius:50%;border:1.500px solid #f3f3f8"></div>
</div>

<div class="card" style="left:816.5px;top:809px;width:528.1px;height:470px">
<div class="abs" style="left:-1.3px;top:0">
 <div class="ct" style="left:22.0px;top:22.2px">Projects Workload</div>
 <div class="cd" style="left:22.0px;top:47.2px;line-height:17.500px">In the Project Workload report, their remaining assignments, completion dates, whether<br>their work is at-risk. <a>Learn more</a></div>
 <svg class="abs" style="left:0;top:0" width="529.6" height="470">
  <path d="M267.00 105.30A86.6 86.6 0 0 1 339.05 143.85L309.90 143.07A65 65 0 0 0 267.00 126.90Z" fill="#1d4fa2"/>
  <path d="M339.05 143.85A86.6 86.6 0 0 1 341.39 236.24L322.83 225.18A65 65 0 0 0 309.90 143.07Z" fill="#4660f0"/>
  <path d="M341.39 236.24A86.6 86.6 0 0 1 215.37 261.42L227.88 243.81A65 65 0 0 0 322.83 225.18Z" fill="#f0961e"/>
  <path d="M215.37 261.42A86.6 86.6 0 0 1 267.00 105.30L267.00 126.90A65 65 0 0 0 227.88 243.81Z" fill="#38b98c"/>
  <path d="M377.0 334.5C378.7 333.6 383.9 331.0 386.9 329.2C390.0 327.4 392.5 326.7 395.5 323.9C398.5 321.2 401.5 315.1 404.8 312.7C408.1 310.3 412.2 310.2 415.3 309.4C418.4 308.6 420.8 307.2 423.2 308.1C425.7 309.0 427.6 312.5 429.8 314.7C432.0 316.9 434.0 320.0 436.4 321.3C438.9 322.6 441.6 322.8 444.4 322.6C447.1 322.4 450.2 320.2 452.9 320.0C455.7 319.7 458.3 320.8 460.9 321.3C463.4 321.7 465.8 323.7 468.1 322.6C470.4 321.5 472.3 317.1 474.7 314.7C477.1 312.3 480.2 308.7 482.6 308.1C485.1 307.4 486.8 309.6 489.2 310.7C491.7 311.8 495.8 314.0 497.2 314.7" fill="none" stroke="#7f8bf4" stroke-width="2.600" stroke-linecap="round"/>
  <path d="M377.0 391.9C378.7 390.3 383.6 384.0 386.9 382.0C390.2 380.0 393.9 380.8 396.8 380.0C399.8 379.3 402.0 377.3 404.8 377.4C407.5 377.5 410.8 379.7 413.3 380.7C415.9 381.7 417.4 384.2 419.9 383.3C422.5 382.4 426.0 377.8 428.5 375.4C431.1 373.0 432.7 369.4 435.1 368.8C437.5 368.3 440.3 370.7 443.0 372.1C445.8 373.5 448.9 376.1 451.6 377.4C454.4 378.7 456.9 379.6 459.5 380.0C462.2 380.5 464.9 381.3 467.5 380.0C470.0 378.7 472.2 374.5 474.7 372.1C477.3 369.7 480.2 365.7 482.6 365.5C485.1 365.3 486.8 368.8 489.2 370.8C491.7 372.8 495.8 376.3 497.2 377.4" fill="none" stroke="#f6bd6e" stroke-width="2.600" stroke-linecap="round"/>
  <path d="M377.0 444.7C378.7 443.3 383.6 438.3 386.9 436.1C390.2 433.9 393.9 432.6 396.8 431.5C399.8 430.4 402.0 429.0 404.8 429.5C407.5 430.1 410.8 433.6 413.3 434.8C415.9 436.0 417.4 437.7 419.9 436.8C422.5 435.9 425.8 431.8 428.5 429.5C431.3 427.2 433.8 423.4 436.4 422.9C439.1 422.5 441.6 425.5 444.4 426.9C447.1 428.3 450.2 430.4 452.9 431.5C455.7 432.6 458.4 433.4 460.9 433.5C463.3 433.6 465.2 433.6 467.5 432.2C469.8 430.7 472.2 427.4 474.7 424.9C477.3 422.4 480.2 417.3 482.6 417.0C485.1 416.7 486.8 420.8 489.2 422.9C491.7 425.0 495.8 428.4 497.2 429.5" fill="none" stroke="#74d0aa" stroke-width="2.600" stroke-linecap="round"/>
 </svg>
 <div class="abs nw" style="left:33.8px;top:309.0px;font-size:14px;line-height:14px;color:#232d5c;-webkit-text-stroke:.3px #232d5c">40.32%</div>
 <div class="abs nw" style="left:33.8px;top:329.8px;font-size:11px;line-height:12px;color:#8f96ae">External</div>
 <div class="abs nw" style="left:33.8px;top:363.8px;font-size:14px;line-height:14px;color:#232d5c;-webkit-text-stroke:.3px #232d5c">40.73%</div>
 <div class="abs nw" style="left:33.8px;top:384.0px;font-size:11px;line-height:12px;color:#8f96ae">Internal</div>
 <div class="abs nw" style="left:33.8px;top:416.6px;font-size:14px;line-height:14px;color:#232d5c;-webkit-text-stroke:.3px #232d5c">50.12%</div>
 <div class="abs nw" style="left:33.8px;top:436.8px;font-size:11px;line-height:12px;color:#8f96ae">Other</div>
</div>
</div>

<div class="card" style="left:1369.6px;top:809px;width:530.6px;height:470px">
<div class="abs" style="left:-0.8px;top:0">
 <div class="ct" style="left:22.7px;top:22.2px">Upcoming Events</div>
 <div class="cd" style="left:22.7px;top:47.2px;line-height:17.500px">It had the latest news and notes from the championship, while previewing the upcoming<br>event... <a>Learn more</a></div>
 <div class="abs" style="left:21.4px;top:117.2px;width:9px;height:9px;border-radius:50%;background:#4a5bf0"></div>
 <div class="abs nw" style="left:42.6px;top:116.7px;font-size:9px;line-height:10px;font-weight:bold;letter-spacing:.63px;color:#7e86a3">NOV 20 TUESDAY</div>
 <div class="abs nw" style="left:42.6px;top:134.5px;font-size:13.200px;line-height:14px;font-weight:bold;color:#1d2a55">PH World Mall Lantern Festival</div>
 <div class="abs nw" style="left:42.6px;top:159.8px;font-size:13.600px;line-height:14px;color:#3d466f"><b style="color:#232d5c">8AM - 4PM</b> Bay Area, San Francisco</div>
 <div class="abs nw" style="left:42.6px;top:187.8px;font-size:11px;line-height:12px;color:#232d5c"><span style="color:#f0567a">Sold Out</span> (3000 tickets sold)</div>
 <div class="abs" style="left:0;top:219.0px;width:529.6px;height:1px;background:#f1f0f7"></div>
 <div class="abs" style="left:21.4px;top:241.0px;width:9px;height:9px;border-radius:50%;background:#f0365a"></div>
 <div class="abs nw" style="left:42.6px;top:240.5px;font-size:9px;line-height:10px;font-weight:bold;letter-spacing:.63px;color:#7e86a3">NOV 23 FRIDAY</div>
 <div class="abs nw" style="left:42.6px;top:258.3px;font-size:13.200px;line-height:14px;font-weight:bold;color:#1d2a55">Asia Pacific Generation Workshop</div>
 <div class="abs nw" style="left:42.6px;top:283.6px;font-size:13.600px;line-height:14px;color:#3d466f"><b style="color:#232d5c">8AM - 5PM</b> Singapore</div>
 <div class="abs nw" style="left:42.6px;top:311.6px;font-size:11px;line-height:12px;color:#232d5c"><span style="color:#efab3a">Sold Out Soon</span> (12 tickets left)</div>
 <div class="abs" style="left:0;top:342.0px;width:529.6px;height:1px;background:#f1f0f7"></div>
 <div class="abs" style="left:21.4px;top:364.8px;width:9px;height:9px;border-radius:50%;background:#17b8c9"></div>
 <div class="abs nw" style="left:42.6px;top:364.3px;font-size:9px;line-height:10px;font-weight:bold;letter-spacing:.63px;color:#7e86a3">NOV 23 FRIDAY</div>
 <div class="abs nw" style="left:42.6px;top:382.1px;font-size:13.200px;line-height:14px;font-weight:bold;color:#1d2a55">Korea Smart Device Trade Show</div>
 <div class="abs nw" style="left:42.6px;top:407.4px;font-size:13.600px;line-height:14px;color:#3d466f"><b style="color:#232d5c">8AM - 5PM</b> Singapore</div>
 <div class="abs nw" style="left:42.6px;top:435.4px;font-size:11px;line-height:12px;color:#232d5c"><span style="color:#1a9c5b">Free Registration</span> (Limited seats only)</div>
</div>
</div>

<div class="card" style="left:261.6px;top:1304px;width:1638.6px;height:260px">
 <div class="ct" style="left:17.2px;top:16.1px">All Projects</div>
 <div class="cd" style="left:17.2px;top:42.1px">A project is an activity to meet the creation of a unique product or service and thus activities that are undertaken to accomplish routine activities cannot be considered projects. <a>Learn more</a></div>
 <div class="abs" style="left:16.2px;top:79.0px;width:1605.2px;height:200px;border:1px solid #eeedf5"></div>
 <div class="abs" style="left:17.2px;top:122.5px;width:1603.2px;height:55.5px;background:#efedfb"></div>
 <div class="abs" style="left:16.2px;top:122.5px;width:1605.2px;height:1px;background:#e9e7f3"></div>
 <div class="abs" style="left:16.2px;top:178.0px;width:1605.2px;height:1px;background:#eeedf5"></div>
 <div class="abs" style="left:324.6px;top:79.0px;width:1px;height:200px;background:#eeedf5"></div>
 <div class="abs" style="left:624.1px;top:79.0px;width:1px;height:200px;background:#eeedf5"></div>
 <div class="abs" style="left:924.4px;top:79.0px;width:1px;height:200px;background:#eeedf5"></div>
 <div class="abs" style="left:1185.9px;top:79.0px;width:1px;height:200px;background:#eeedf5"></div>
 <div class="abs" style="left:1360.1px;top:79.0px;width:1px;height:200px;background:#eeedf5"></div>
 <div class="ct" style="left:29.4px;top:91.7px">Project</div>
 <div class="ct" style="left:338.4px;top:91.7px">Team Members</div>
 <div class="ct" style="left:637.7px;top:91.7px">Categorie</div>
 <div class="ct" style="left:938.1px;top:91.7px">Created</div>
 <div class="ct" style="left:1198.4px;top:91.7px">Status</div>
 <div class="ct" style="left:1373.8px;top:91.7px">Deadline</div>
 <div class="abs nw" style="left:29.4px;top:143.1px;font-size:12px;line-height:12px;font-weight:bold;color:#2d3766">Angular Project</div>
 <svg class="abs" style="left:338.6px;top:138.2px;border-radius:50%;box-shadow:0 0 0 1.500px #fff" width="24.5" height="24.5" viewBox="0 0 26 26"><rect width="26" height="26" fill="#eeeeee"/><g transform="translate(13 13) scale(1.18) translate(-13 -14.5)"><path d="M6.500 12c0-6 2.500-8.500 6.500-8.500s6.500 2.500 6.500 8.500l-1.500 3h-10z" fill="#241c1b"/><ellipse cx="13" cy="12.500" rx="3.800" ry="5" fill="#c9a393"/><path d="M9 8.500c1-3 7-3 8 0-2-1-6-1-8 0z" fill="#241c1b"/><path d="M4 26c1-4.500 4.500-6.500 9-6.500s8 2 9 6.500z" fill="#1f1b1d"/></g></svg>
 <svg class="abs" style="left:362.6px;top:138.2px;border-radius:50%;box-shadow:0 0 0 1.500px #fff" width="24.5" height="24.5" viewBox="0 0 26 26"><rect width="26" height="26" fill="#ef5848"/><g transform="translate(13 13) scale(1.18) translate(-13 -14.5)"><path d="M5.500 26V12c0-6 3-9 7.500-9s7.500 3 7.500 9v14h-4V12h-7v14z" fill="#33231f"/><ellipse cx="13" cy="12.500" rx="3.800" ry="5" fill="#e6b7a6"/><path d="M9 8.500c1-3 7-3 8 0-2-1-6-1-8 0z" fill="#33231f"/><path d="M4 26c1-4.500 4.500-6.500 9-6.500s8 2 9 6.500z" fill="#f06a4a"/></g></svg>
 <svg class="abs" style="left:386.6px;top:138.2px;border-radius:50%;box-shadow:0 0 0 1.500px #fff" width="24.5" height="24.5" viewBox="0 0 26 26"><rect width="26" height="26" fill="#b4a23c"/><g transform="translate(13 13) scale(1.18) translate(-13 -14.5)"><path d="M6.500 12c0-6 2.500-8.500 6.500-8.500s6.500 2.500 6.500 8.500l-1.500 3h-10z" fill="#5a3a2a"/><ellipse cx="13" cy="12.500" rx="3.800" ry="5" fill="#c8917f"/><path d="M9 8.500c1-3 7-3 8 0-2-1-6-1-8 0z" fill="#5a3a2a"/><path d="M4 26c1-4.500 4.500-6.500 9-6.500s8 2 9 6.500z" fill="#6878d2"/></g></svg>
 <div class="abs nw" style="left:637.7px;top:143.1px;font-size:12px;line-height:12px;font-weight:bold;color:#2d3766">Web Design</div>
 <div class="abs nw" style="left:938.1px;top:143.1px;font-size:12px;line-height:12px;font-weight:bold;color:#2d3766;font-size:12.700px">01 Jan 2020</div>
 <div class="abs nw" style="left:1198.4px;top:141.1px;width:50.500px;height:16px;border-radius:4px;background:#4a5bf0;color:#fff;font-size:9px;font-weight:bold;line-height:16px;text-align:center">Ongoing</div>
 <div class="abs nw" style="left:1373.8px;top:143.1px;font-size:12px;line-height:12px;font-weight:bold;color:#2d3766;font-size:12.700px">15 March 2020</div>
 <div class="abs nw" style="left:29.4px;top:197.1px;font-size:12px;line-height:12px;font-weight:bold;color:#2d3766">PHP Project</div>
 <svg class="abs" style="left:338.6px;top:192.8px;border-radius:50%;box-shadow:0 0 0 1.500px #fff" width="24.5" height="24.5" viewBox="0 0 26 26"><rect width="26" height="26" fill="#a3afbe"/><g transform="translate(13 13) scale(1.18) translate(-13 -14.5)"><path d="M6.500 12c0-6 2.500-8.500 6.500-8.500s6.500 2.500 6.500 8.500l-1.500 3h-10z" fill="#3a302e"/><ellipse cx="13" cy="12.500" rx="3.800" ry="5" fill="#d8b8a8"/><path d="M9 8.500c1-3 7-3 8 0-2-1-6-1-8 0z" fill="#3a302e"/><path d="M4 26c1-4.500 4.500-6.500 9-6.500s8 2 9 6.500z" fill="#b6cfe8"/></g></svg>
 <svg class="abs" style="left:362.6px;top:192.8px;border-radius:50%;box-shadow:0 0 0 1.500px #fff" width="24.5" height="24.5" viewBox="0 0 26 26"><rect width="26" height="26" fill="#f4f0ee"/><g transform="translate(13 13) scale(1.18) translate(-13 -14.5)"><path d="M5.500 26V12c0-6 3-9 7.500-9s7.500 3 7.500 9v14h-4V12h-7v14z" fill="#6a3e2c"/><ellipse cx="13" cy="12.500" rx="3.800" ry="5" fill="#e0b29a"/><path d="M9 8.500c1-3 7-3 8 0-2-1-6-1-8 0z" fill="#6a3e2c"/><path d="M4 26c1-4.500 4.500-6.500 9-6.500s8 2 9 6.500z" fill="#8a5a44"/></g></svg>
 <svg class="abs" style="left:386.6px;top:192.8px;border-radius:50%;box-shadow:0 0 0 1.500px #fff" width="24.5" height="24.5" viewBox="0 0 26 26"><rect width="26" height="26" fill="#a6c634"/><g transform="translate(13 13) scale(1.18) translate(-13 -14.5)"><path d="M5.500 26V12c0-6 3-9 7.500-9s7.500 3 7.500 9v14h-4V12h-7v14z" fill="#5a3220"/><ellipse cx="13" cy="12.500" rx="3.800" ry="5" fill="#d8a488"/><path d="M9 8.500c1-3 7-3 8 0-2-1-6-1-8 0z" fill="#5a3220"/><path d="M4 26c1-4.500 4.500-6.500 9-6.500s8 2 9 6.500z" fill="#f08a1c"/></g></svg>
 <div class="abs nw" style="left:637.7px;top:197.1px;font-size:12px;line-height:12px;font-weight:bold;color:#2d3766">Web Development</div>
 <div class="abs nw" style="left:938.1px;top:197.1px;font-size:12px;line-height:12px;font-weight:bold;color:#2d3766;font-size:12.700px">03 March 2020</div>
 <div class="abs nw" style="left:1198.4px;top:195.1px;width:50.500px;height:16px;border-radius:4px;background:#19a35f;color:#fff;font-size:9px;font-weight:bold;line-height:16px;text-align:center">Ongoing</div>
 <div class="abs nw" style="left:1373.8px;top:197.1px;font-size:12px;line-height:12px;font-weight:bold;color:#2d3766;font-size:12.700px">15 Jun 2020</div>
</div>

</div>
</body>
</html>
